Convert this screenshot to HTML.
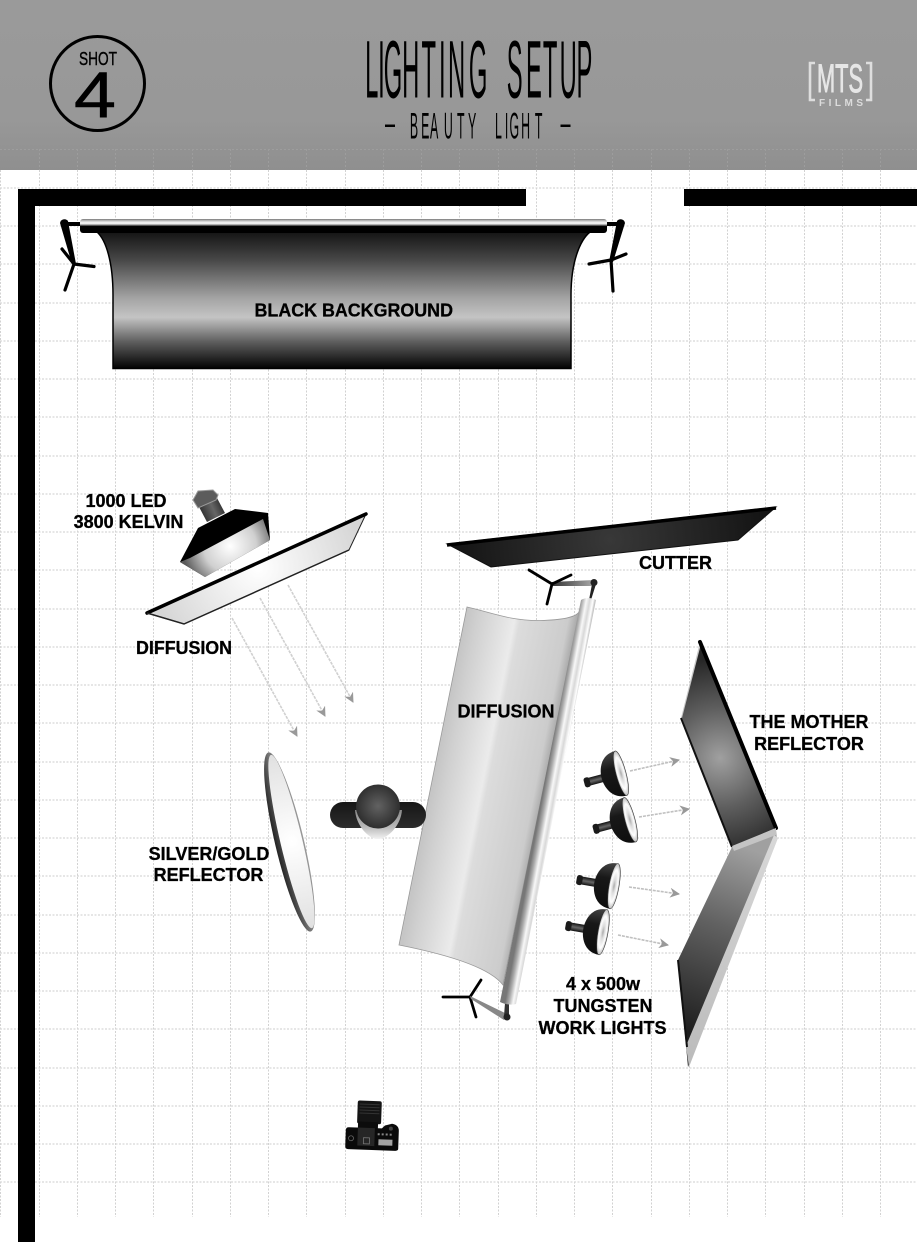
<!DOCTYPE html>
<html><head><meta charset="utf-8"><title>Lighting Setup</title>
<style>html,body{margin:0;padding:0;background:#fff}svg{display:block}text{font-family:"Liberation Sans",sans-serif}</style></head>
<body>
<svg xmlns="http://www.w3.org/2000/svg" width="917" height="1242" viewBox="0 0 917 1242">
<defs>
<linearGradient id="hd" x1="0" y1="0" x2="0" y2="1"><stop offset="0" stop-color="#9a9a9a"/><stop offset=".7" stop-color="#989898"/><stop offset="1" stop-color="#8f8f8f"/></linearGradient>
<linearGradient id="bd" gradientUnits="userSpaceOnUse" x1="0" y1="233" x2="0" y2="369"><stop offset="0" stop-color="#161616"/><stop offset=".2" stop-color="#484848"/><stop offset=".48" stop-color="#a4a4a4"/><stop offset=".62" stop-color="#c4c4c4"/><stop offset=".8" stop-color="#5e5e5e"/><stop offset="1" stop-color="#000"/></linearGradient>
<linearGradient id="rl" x1="0" y1="0" x2="0" y2="1"><stop offset="0" stop-color="#777"/><stop offset=".15" stop-color="#ccc"/><stop offset=".3" stop-color="#fff"/><stop offset=".42" stop-color="#999"/><stop offset=".52" stop-color="#000"/><stop offset="1" stop-color="#000"/></linearGradient>
<radialGradient id="led" gradientUnits="userSpaceOnUse" cx="230" cy="546" r="48"><stop offset="0" stop-color="#fff"/><stop offset=".55" stop-color="#d0d0d0"/><stop offset="1" stop-color="#5a5a5a"/></radialGradient>
<linearGradient id="neck" gradientUnits="userSpaceOnUse" x1="200" y1="515" x2="222" y2="505"><stop offset="0" stop-color="#2a2a2a"/><stop offset=".6" stop-color="#666"/><stop offset="1" stop-color="#333"/></linearGradient>
<radialGradient id="dif" gradientUnits="userSpaceOnUse" cx="258" cy="568" r="105"><stop offset="0" stop-color="#fff"/><stop offset="1" stop-color="#d6d6d6"/></radialGradient>
<radialGradient id="cut" gradientUnits="userSpaceOnUse" cx="610" cy="540" r="170"><stop offset="0" stop-color="#383838"/><stop offset="1" stop-color="#111"/></radialGradient>
<linearGradient id="sheet" gradientUnits="userSpaceOnUse" x1="450" y1="700" x2="562" y2="722"><stop offset="0" stop-color="#c6c6c6"/><stop offset=".1" stop-color="#d0d0d0"/><stop offset=".42" stop-color="#ebebeb"/><stop offset=".47" stop-color="#dcdcdc"/><stop offset=".88" stop-color="#cccccc"/><stop offset=".96" stop-color="#aaa"/><stop offset="1" stop-color="#777"/></linearGradient>
<linearGradient id="roller" gradientUnits="userSpaceOnUse" x1="560" y1="700" x2="576.5" y2="703"><stop offset="0" stop-color="#777"/><stop offset=".22" stop-color="#aaa"/><stop offset=".48" stop-color="#f8f8f8"/><stop offset=".68" stop-color="#d8d8d8"/><stop offset=".88" stop-color="#fff"/><stop offset="1" stop-color="#c4c4c4"/></linearGradient>
<linearGradient id="bar1" gradientUnits="userSpaceOnUse" x1="552" y1="0" x2="594" y2="0"><stop offset="0" stop-color="#333"/><stop offset="1" stop-color="#aaa"/></linearGradient>
<radialGradient id="head" gradientUnits="userSpaceOnUse" cx="378" cy="806" r="24"><stop offset="0" stop-color="#626262"/><stop offset="1" stop-color="#2a2a2a"/></radialGradient>
<linearGradient id="shld" x1="0" y1="0" x2="0" y2="1"><stop offset="0" stop-color="#161616"/><stop offset="1" stop-color="#2c2c2c"/></linearGradient>
<linearGradient id="chin" x1="0" y1="0" x2="0" y2="1"><stop offset="0" stop-color="#888"/><stop offset=".6" stop-color="#bbb"/><stop offset="1" stop-color="#f2f2f2"/></linearGradient>
<radialGradient id="silv" gradientUnits="userSpaceOnUse" cx="292" cy="842" r="90"><stop offset="0" stop-color="#fff"/><stop offset="1" stop-color="#e0e0e0"/></radialGradient>
<linearGradient id="silvo" x1="0" y1="0" x2="1" y2="0"><stop offset="0" stop-color="#222"/><stop offset=".5" stop-color="#777"/><stop offset="1" stop-color="#999"/></linearGradient>
<radialGradient id="mom1" gradientUnits="userSpaceOnUse" cx="720" cy="758" r="100"><stop offset="0" stop-color="#a0a0a0"/><stop offset=".5" stop-color="#5e5e5e"/><stop offset="1" stop-color="#262626"/></radialGradient>
<linearGradient id="mom2" gradientUnits="userSpaceOnUse" x1="752" y1="850" x2="682" y2="1030"><stop offset="0" stop-color="#a0a0a0"/><stop offset=".42" stop-color="#626262"/><stop offset="1" stop-color="#1e1e1e"/></linearGradient>
<linearGradient id="edge" gradientUnits="userSpaceOnUse" x1="776" y1="835" x2="688" y2="1065"><stop offset="0" stop-color="#d8d8d8"/><stop offset="1" stop-color="#bbb"/></linearGradient>
<linearGradient id="bowl" x1="0" y1="0" x2="0" y2="1"><stop offset="0" stop-color="#444"/><stop offset=".35" stop-color="#181818"/><stop offset="1" stop-color="#0e0e0e"/></linearGradient>
<linearGradient id="stem" x1="0" y1="0" x2="0" y2="1"><stop offset="0" stop-color="#111"/><stop offset=".5" stop-color="#666"/><stop offset="1" stop-color="#111"/></linearGradient>
<radialGradient id="face"><stop offset="0" stop-color="#aaa"/><stop offset=".3" stop-color="#ddd"/><stop offset=".7" stop-color="#fff"/><stop offset="1" stop-color="#bbb"/></radialGradient>
<g id="lamp">
<rect x="-33" y="-4" width="17" height="8" fill="url(#stem)"/>
<rect x="-37" y="-5" width="6" height="10" rx="2.5" fill="#1a1a1a"/>
<path d="M1,-23 C-15,-23 -19,-8 -19,0 C-19,8 -15,23 1,23 Z" fill="url(#bowl)"/>
<ellipse cx="1" cy="0" rx="5" ry="23" fill="url(#face)" stroke="#333" stroke-width=".6"/>
</g>
<marker id="ah" markerWidth="12" markerHeight="10" refX="9" refY="5" orient="auto" markerUnits="userSpaceOnUse"><path d="M0,0 L10,5 L0,10 L3,5 Z" fill="#999"/></marker>
</defs>

<rect width="917" height="1242" fill="#fff"/>
<rect width="917" height="170" fill="url(#hd)"/>

<path stroke="#9d9d9d" stroke-width="1" stroke-dasharray="2 2" fill="none" d="M0,149.5H917 M39.5,149V170 M77.5,149V170 M115.5,149V170 M153.5,149V170 M192.5,149V170 M230.5,149V170 M268.5,149V170 M306.5,149V170 M345.5,149V170 M383.5,149V170 M421.5,149V170 M459.5,149V170 M498.5,149V170 M536.5,149V170 M574.5,149V170 M612.5,149V170 M651.5,149V170 M689.5,149V170 M727.5,149V170 M765.5,149V170 M804.5,149V170 M842.5,149V170 M880.5,149V170"/>
<path stroke="#d2d2d2" stroke-width="1" stroke-dasharray="2 1.5" fill="none" d="M0.5,170V1217 M39.5,170V1217 M77.5,170V1217 M115.5,170V1217 M153.5,170V1217 M192.5,170V1217 M230.5,170V1217 M268.5,170V1217 M306.5,170V1217 M345.5,170V1217 M383.5,170V1217 M421.5,170V1217 M459.5,170V1217 M498.5,170V1217 M536.5,170V1217 M574.5,170V1217 M612.5,170V1217 M651.5,170V1217 M689.5,170V1217 M727.5,170V1217 M765.5,170V1217 M804.5,170V1217 M842.5,170V1217 M880.5,170V1217"/>
<path stroke="#d8d8d8" stroke-width="1.2" stroke-dasharray="2 1.5" fill="none" d="M0,188H917 M0,226H917 M0,264H917 M0,303H917 M0,341H917 M0,379H917 M0,417H917 M0,456H917 M0,494H917 M0,532H917 M0,570H917 M0,609H917 M0,647H917 M0,685H917 M0,723H917 M0,762H917 M0,800H917 M0,838H917 M0,876H917 M0,915H917 M0,953H917 M0,991H917 M0,1029H917 M0,1068H917 M0,1106H917 M0,1144H917 M0,1182H917"/>

<!-- header -->
<circle cx="97.5" cy="83.5" r="47" fill="none" stroke="#000" stroke-width="3"/>
<text x="79" y="65" font-size="18" textLength="38" lengthAdjust="spacingAndGlyphs" fill="#000" stroke="#000" stroke-width=".4">SHOT</text>
<text x="74" y="117" font-size="65" textLength="42" lengthAdjust="spacingAndGlyphs" fill="#000" stroke="#000" stroke-width=".6">4</text>

<text transform="translate(0,97.5) scale(.29,1)" font-size="82" fill="#000" x="1259 1303.8 1323.4 1386.6 1453.4 1514 1545 1616.6 1680 1747.6 1814 1872 1929.7 1988" y="0">LIGHTING SETUP</text>
<text transform="translate(0,138.3) scale(.33,1)" font-size="37.5" fill="#000" x="1242 1276 1303 1345 1385 1418 1450 1500 1530 1544 1579 1621" y="0">BEAUTY LIGHT</text>
<text transform="translate(385,135) scale(.48,1)" font-size="37.5" fill="#000">–</text>
<text transform="translate(560.5,135) scale(.48,1)" font-size="37.5" fill="#000">–</text>

<path d="M815,63 H810 V100 H815 M866,63 H871 V100 H866" fill="none" stroke="#dedede" stroke-width="2.6"/>
<text x="817" y="92" font-size="40" textLength="46" lengthAdjust="spacingAndGlyphs" fill="#e6e6e6" stroke="#e6e6e6" stroke-width="1">MTS</text>
<text x="819" y="106" font-size="10" font-weight="bold" textLength="44" lengthAdjust="spacing" fill="#dcdcdc">FILMS</text>

<!-- walls -->
<rect x="18" y="189" width="508" height="17" fill="#000"/>
<rect x="18" y="189" width="17" height="1053" fill="#000"/>
<rect x="684" y="189" width="233" height="17" fill="#000"/>

<!-- backdrop stands -->
<g stroke="#000" fill="none" stroke-linecap="round">
<path d="M64,224 H82" stroke-width="4"/>
<path d="M74,264 L94,266.5 M74,264 L65,290 M74,264 L62,249" stroke-width="3.2"/>
<path d="M621,224 H604" stroke-width="4"/>
<path d="M611,260 L589,264 M611,260 L626,254 M611,260 L613,291" stroke-width="3.2"/>
</g>
<path d="M60,223 A4.5,4.5 0 0 1 68,221 L76,264 L72,264 Z" fill="#000"/>
<path d="M617,221 A4.5,4.5 0 0 1 625,223 L613,262 L609,262 Z" fill="#000"/>

<!-- backdrop -->
<path d="M97,232 C106,240 113,262 113,295 V368.5 H571 V295 C571,262 580,240 590,232 Z" fill="url(#bd)" stroke="#000" stroke-width="1.5"/>
<rect x="80" y="219" width="527" height="14" rx="3" fill="url(#rl)"/>

<!-- LED light -->
<path d="M198,505 L217,498 L225,513 L207,522 Z" fill="url(#neck)"/>
<path d="M193,500 L198,491 L213,490 L218,495 L216,500 L198,508 Z" fill="#5c5c5c" stroke="#999" stroke-width="1"/>
<path d="M235,509 L268,513 L270,540 L205,577 L180,562 L198,528 Z" fill="#000"/>
<path d="M263,519 L270,540 L205,577 L180,562 L190,558 Z" fill="url(#led)"/>

<!-- diffusion panel -->
<path d="M147,613 L366,514 L349,550 L184,624 Z" fill="url(#dif)" stroke="#222" stroke-width="1"/>
<path d="M147,613 L366,514" stroke="#000" stroke-width="3.5" stroke-linecap="round"/>
<path d="M349,550 L184,624 L147,613" fill="none" stroke="#222" stroke-width="1.5"/>
<g stroke="#d0d0d0" stroke-width="1.6" stroke-dasharray="3 1" fill="none">
<path d="M232,618 L297,736" marker-end="url(#ah)"/>
<path d="M260,598 L325,716" marker-end="url(#ah)"/>
<path d="M288,585 L353,702" marker-end="url(#ah)"/>
</g>

<!-- cutter -->
<path d="M447,544 L776,507 L738,540 L491,567 Z" fill="url(#cut)" stroke="#111" stroke-width="1"/>
<path d="M447,545 L776,508" stroke="#000" stroke-width="3.5"/>

<!-- main diffusion stands -->
<path d="M552,582 L594,580 L594,586 L552,586 Z" fill="url(#bar1)"/>
<g stroke="#000" fill="none" stroke-linecap="round" stroke-width="2.8">
<path d="M552,584 L529,570 M552,584 L571,575 M552,584 L547,604"/>
<path d="M470,997 L443,997 M470,997 L481,980 M470,997 L476,1017"/>
</g>
<path d="M470,996 L507,1014 L504,1020 L471,999 Z" fill="#888"/>
<path d="M592,584 L589,600 L591,600 L596,584 Z" fill="#222"/>
<path d="M505,1003 L504,1016 L509,1016 L509,1003 Z" fill="#333"/>
<circle cx="594" cy="582.5" r="3.5" fill="#222"/>
<circle cx="507" cy="1017" r="3.5" fill="#222"/>

<!-- main diffusion -->
<path d="M467,607 C490,612 510,621 540,620.5 C560,620 575,618 579,612 L582,600 L503,985 C490,968 450,955 399,945 Z" fill="url(#sheet)" stroke="#999" stroke-width=".8"/>
<path d="M581,600 Q588,596 596,600 L516,1004 Q509,1006 500,1002 Z" fill="url(#roller)"/>

<!-- person -->
<rect x="330" y="802" width="96" height="26" rx="13" fill="url(#shld)"/>
<path d="M355,810 C356,825 368,839 378,839 C388,839 401,825 402,810 Z" fill="url(#chin)"/>
<circle cx="378" cy="806.5" r="22" fill="url(#head)"/>

<!-- silver reflector -->
<g transform="rotate(-13.3 289.5 842)">
<ellipse cx="289.5" cy="842" rx="14.5" ry="92" fill="url(#silvo)"/>
<ellipse cx="291.5" cy="842" rx="11" ry="89" fill="url(#silv)"/>
</g>

<!-- mother reflector -->
<path d="M700,642 L681,718 L685,720 L702,650 Z" fill="#c8c8c8"/>
<path d="M701,644 L776,828 L732,847 L682,718 Z" fill="url(#mom1)"/>
<path d="M700,642 L776,828" stroke="#000" stroke-width="4" stroke-linecap="round"/>
<path d="M681,718 L732,847" stroke="#111" stroke-width="2"/>
<path d="M732,847 L776,829 L777,840 L688,1067 L678,960 Z" fill="url(#mom2)"/>
<path d="M774,835 L778,838 L689,1067 L686,1046 Z" fill="url(#edge)"/>
<path d="M732,846 L776,828 L776,835 L734,851 Z" fill="#c4c4c4"/>
<path d="M678,960 L687,1047" stroke="#111" stroke-width="2"/>

<!-- lamps -->
<use href="#lamp" transform="translate(620,773.5) rotate(-15)"/>
<use href="#lamp" transform="translate(629,820) rotate(-15)"/>
<use href="#lamp" transform="translate(613,886) rotate(10)"/>
<use href="#lamp" transform="translate(602,932) rotate(10)"/>
<g stroke="#c0c0c0" stroke-width="1.6" stroke-dasharray="3 1" fill="none">
<path d="M630,771 L679,760" marker-end="url(#ah)"/>
<path d="M639,817 L689,809" marker-end="url(#ah)"/>
<path d="M629,887 L679,894" marker-end="url(#ah)"/>
<path d="M618,935 L668,945" marker-end="url(#ah)"/>
</g>

<!-- camera -->
<g transform="rotate(2 372 1125)">
<rect x="357" y="1101" width="24" height="23" rx="2" fill="#141414"/>
<rect x="358" y="1122" width="20" height="8" fill="#0c0c0c"/>
<path d="M359,1104 h20 v1 h-20 z M359,1107 h20 v1 h-20 z M359,1110 h20 v1 h-20 z M359,1113 h20 v1 h-20 z" fill="#333"/>
<path d="M346,1131 Q346,1128 349,1128 L382,1128 L385,1125 L392,1123 Q399,1124 399,1130 L399,1148 Q399,1150 396,1150 L349,1150 Q346,1150 346,1147 Z" fill="#0a0a0a"/>
<rect x="379" y="1139" width="14" height="6" fill="#a4a4a4"/>
<rect x="358" y="1128" width="17" height="18" fill="#262626"/>
<circle cx="351.5" cy="1139" r="2.5" fill="none" stroke="#666" stroke-width=".8"/>
<rect x="364" y="1138" width="6" height="6" fill="none" stroke="#777" stroke-width=".8"/>
<path d="M378,1133 h2 v2 h-2 z M382,1133 h2 v2 h-2 z M386,1133 h2 v2 h-2 z M390,1133 h2 v2 h-2 z" fill="#888"/>
<circle cx="391" cy="1128" r="2" fill="#444"/>
</g>

<!-- labels -->
<g font-size="18" font-weight="bold" fill="#000" stroke="#000" stroke-width=".3">
<text x="254.5" y="316.5" textLength="198.5" lengthAdjust="spacingAndGlyphs">BLACK BACKGROUND</text>
<text x="457.5" y="717.5">DIFFUSION</text>
<text x="126" y="507" text-anchor="middle">1000 LED</text>
<text x="128.5" y="528" text-anchor="middle">3800 KELVIN</text>
<text x="136" y="654" textLength="96" lengthAdjust="spacingAndGlyphs">DIFFUSION</text>
<text x="639" y="569">CUTTER</text>
<text x="809" y="728" text-anchor="middle">THE MOTHER</text>
<text x="809" y="750" text-anchor="middle">REFLECTOR</text>
<text x="209" y="860" text-anchor="middle">SILVER/GOLD</text>
<text x="208.5" y="881" text-anchor="middle">REFLECTOR</text>
<text x="603" y="990" text-anchor="middle">4 x 500w</text>
<text x="603" y="1012" text-anchor="middle">TUNGSTEN</text>
<text x="602.5" y="1034" text-anchor="middle">WORK LIGHTS</text>
</g>
</svg>
</body></html>
